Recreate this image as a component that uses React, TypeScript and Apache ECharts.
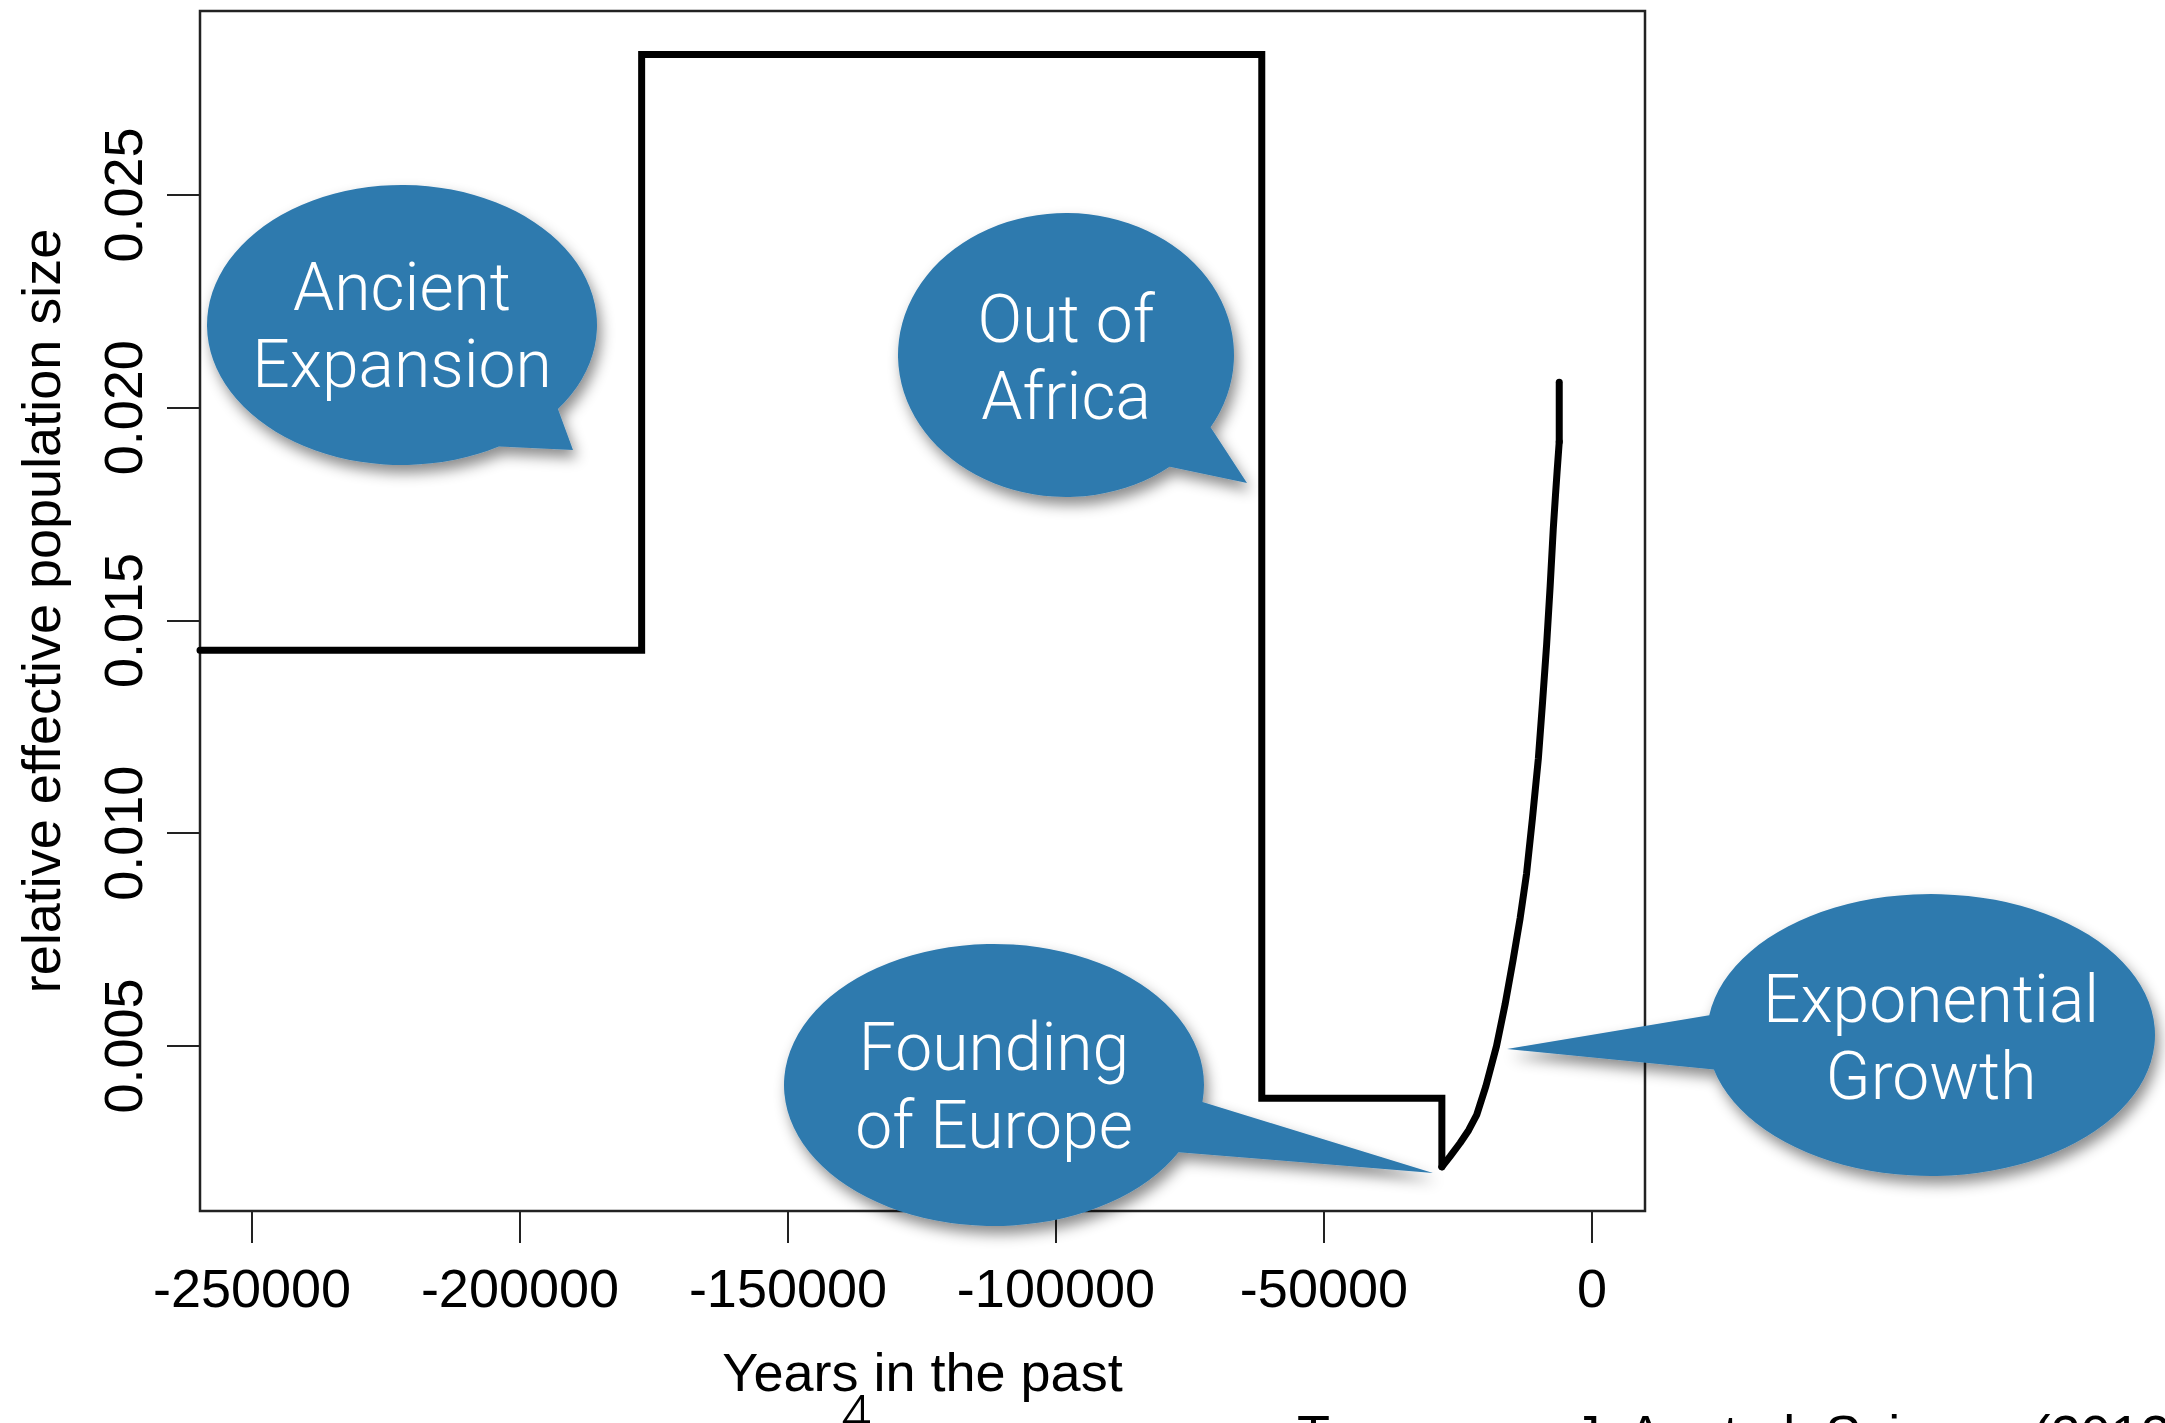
import React, { useEffect, useRef } from "react";
import * as echarts from "echarts";

// ---- data ----
// piecewise-constant history
const stepX = [-259700, -177300, -177300, -61600, -61600, -28000, -28000];
const stepY = [0.0143, 0.0143, 0.0283, 0.0283, 0.00377, 0.00377, 0.00216];
// exponential growth phase
const growthX = [
  -28000, -26500, -24600, -23000, -21500, -19800, -17800, -16200, -14700,
  -13400, -12200, -11100, -10000, -9200, -8450, -7800, -7220, -6800, -6500,
  -6100,
];
const growthY = [
  0.00216, 0.0024, 0.00272, 0.00302, 0.00338, 0.00405, 0.005, 0.00598,
  0.00703, 0.008, 0.00905, 0.01035, 0.01175, 0.0131, 0.01444, 0.0158,
  0.01714, 0.01795, 0.0185, 0.0192,
];
// final rapid jump
const finalX = [-6100, -6100];
const finalY = [0.0192, 0.0206];

const xTicks = [-250000, -200000, -150000, -100000, -50000, 0];
const yTicks = [0.005, 0.01, 0.015, 0.02, 0.025];
const bubbleLines = [
  ["Ancient", "Expansion"],
  ["Out of", "Africa"],
  ["Founding", "of Europe"],
  ["Exponential", "Growth"],
];

// ---- annotation geometry (layout, in pixels) ----
const bubbleGeom = [
  { cx: 402, cy: 325, rx: 195, ry: 140, a1: 36.9, a2: 60.2, tx: 573, ty: 450, ty1: 287.5, ty2: 364 },
  { cx: 1066, cy: 355, rx: 168, ry: 142, a1: 30.6, a2: 51.9, tx: 1247, ty: 483, ty1: 319.5, ty2: 396 },
  { cx: 994, cy: 1085, rx: 210, ry: 141, a1: 6.9, a2: 28.5, tx: 1433, ty: 1173, ty1: 1047.5, ty2: 1125 },
  { cx: 1931, cy: 1035, rx: 224, ry: 141, a1: 165.8, a2: 188.1, tx: 1507, ty: 1049, ty1: 999.5, ty2: 1076 },
];

function bubblePath(g: any) {
  const p = (a: number) => {
    const r = (a * Math.PI) / 180;
    return [g.cx + g.rx * Math.cos(r), g.cy + g.ry * Math.sin(r)];
  };
  const [x2, y2] = p(g.a2);
  const [x1, y1] = p(g.a1);
  return `M${x2} ${y2} A${g.rx} ${g.ry} 0 1 1 ${x1} ${y1} L${g.tx} ${g.ty} Z`;
}

bubbleGeom.forEach((g, i) => {
  echarts.graphic.registerShape("bubble" + i, echarts.graphic.extendPath(bubblePath(g), {}));
});

const AXIS_FONT = "'Liberation Sans', Arial, Helvetica, sans-serif";
const BUBBLE_FONT = "Roboto, 'Open Sans', sans-serif";

export default function App() {
  const ref = useRef<HTMLDivElement>(null);
  useEffect(() => {
    const chart = echarts.init(ref.current!, null, { renderer: "svg" });
    const graphic: any[] = [];
    bubbleGeom.forEach((g, i) => {
      graphic.push({
        type: "bubble" + i,
        x: 0,
        y: 0,
        z: 100,
        style: {
          fill: "#2f7aae",
          shadowBlur: 14,
          shadowColor: "rgba(0,0,0,0.45)",
          shadowOffsetX: 4,
          shadowOffsetY: 8,
        },
      });
      [g.ty1, g.ty2].forEach((yy, k) => {
        graphic.push({
          type: "text",
          x: g.cx,
          y: yy,
          z: 101,
          style: {
            text: bubbleLines[i][k],
            fill: "#ffffff",
            fontSize: 66,
            fontWeight: 300,
            fontFamily: BUBBLE_FONT,
            align: "center",
            verticalAlign: "middle",
          },
        });
      });
    });
    graphic.push({
      type: "text",
      x: 856,
      y: 1414,
      z: 101,
      style: {
        text: "4",
        fill: "#000",
        fontSize: 54,
        fontWeight: 300,
        fontFamily: BUBBLE_FONT,
        align: "center",
        verticalAlign: "middle",
      },
    });
    graphic.push({
      type: "text",
      x: 1297,
      y: 1434,
      z: 101,
      style: {
        text: "Tennessen J. A. et al. Science (2012)",
        fill: "#000",
        fontSize: 54,
        fontFamily: AXIS_FONT,
        align: "left",
        verticalAlign: "middle",
      },
    });

    const labelStyle = {
      fontSize: 54,
      fontFamily: AXIS_FONT,
      color: "#000",
      lineHeight: 54,
    };
    const stepStyle = { color: "#000", width: 7, join: "miter", cap: "round" };
    const curveStyle = { color: "#000", width: 7, join: "round", cap: "round" };

    chart.setOption({
      animation: false,
      backgroundColor: "#ffffff",
      grid: {
        left: 200,
        right: 520,
        top: 11,
        bottom: 212,
        show: true,
        borderColor: "#222",
        borderWidth: 2.5,
        backgroundColor: "transparent",
        containLabel: false,
        outerBoundsMode: "none",
      },
      xAxis: {
        type: "value",
        min: -259700,
        max: 9900,
        axisLine: { show: false, onZero: false },
        splitLine: { show: false },
        axisTick: {
          show: true,
          length: 32,
          customValues: xTicks,
          lineStyle: { color: "#222", width: 2 },
        },
        axisLabel: {
          ...labelStyle,
          customValues: xTicks,
          margin: 50,
          formatter: (v: number) => String(v),
        },
        name: "Years in the past",
        nameLocation: "middle",
        nameGap: 134,
        nameTextStyle: { ...labelStyle },
      },
      yAxis: {
        type: "value",
        min: 0.001122,
        max: 0.029324,
        axisLine: { show: false, onZero: false },
        splitLine: { show: false },
        axisTick: {
          show: true,
          length: 33,
          customValues: yTicks,
          lineStyle: { color: "#222", width: 2 },
        },
        axisLabel: {
          ...labelStyle,
          customValues: yTicks,
          rotate: 90,
          margin: 50,
          formatter: (v: number) => v.toFixed(3),
        },
        name: "relative effective population size",
        nameLocation: "middle",
        nameGap: 132,
        nameRotate: 90,
        nameTextStyle: { ...labelStyle },
      },
      series: [
        {
          type: "line",
          data: stepX.map((x, i) => [x, stepY[i]]),
          symbol: "none",
          showSymbol: false,
          clip: true,
          lineStyle: stepStyle,
          z: 3,
        },
        {
          type: "line",
          data: growthX.map((x, i) => [x, growthY[i]]),
          symbol: "none",
          showSymbol: false,
          clip: true,
          lineStyle: curveStyle,
          z: 3,
        },
        {
          type: "line",
          data: finalX.map((x, i) => [x, finalY[i]]),
          symbol: "none",
          showSymbol: false,
          clip: true,
          lineStyle: curveStyle,
          z: 3,
        },
      ],
      graphic,
    });
    return () => chart.dispose();
  }, []);
  return (
    <div
      ref={ref}
      style={{ position: "absolute", left: 0, top: 0, width: 2165, height: 1423, background: "#fff" }}
    />
  );
}
